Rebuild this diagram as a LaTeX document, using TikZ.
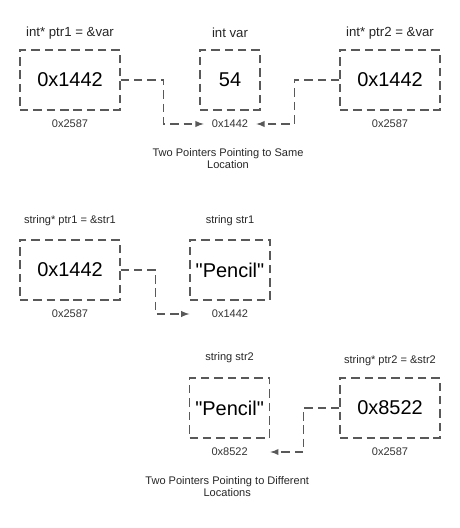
\documentclass[tikz,border=0pt]{standalone}
\usepackage{fontspec}
\setmainfont{Liberation Sans}
\usetikzlibrary{calc,arrows}
\usepackage{xcolor}
\definecolor{dashgray}{HTML}{595959}

\tikzset{
    membox/.style={draw=dashgray, line width=1pt, dash pattern=on 6pt off 3.5pt, minimum height=1.5cm, inner sep=0pt, font=\fontsize{14.2}{17}\selectfont},
    bigname/.style={font=\fontsize{9.4}{11}\selectfont, text=black!85},
    smallname/.style={font=\fontsize{7.85}{9}\selectfont, text=black!85},
    addr/.style={font=\fontsize{7.85}{9}\selectfont, text=black!80, inner sep=0.2cm},
    caption/.style={font=\fontsize{7.85}{8.6}\selectfont, align=center, text=black!85},
    ptrline/.style={draw=dashgray, line width=1pt, dash pattern=on 6pt off 3.5pt, -latex}
}

\begin{document}
\begin{tikzpicture}
        \useasboundingbox (0,0) rectangle (11.5,-13.2);

        % two pointers, same location
        \foreach \name/\x/\w/\val/\lbl/\adr in {ptrA/1.75/2.5/0x1442/{int* ptr1 = \&var}/0x2587,
                                               var/5.75/1.5/54/{int var}/0x1442,
                                               ptrB/9.75/2.5/0x1442/{int* ptr2 = \&var}/0x2587} {
                \node[membox, minimum width=\w cm] (\name) at (\x,-2) {\val};
                \node[bigname] (\name lbl) at (\x,-0.825) {\lbl};
                \node[addr] (\name adr) at (\x,-3.1) {\adr};
            }
        \draw[ptrline] (ptrA.east) -- ++(1.075,0) |- (varadr.west);
        \draw[ptrline] (ptrB.west) -- ++(-1.125,0) |- (varadr.east);
        \node[caption] (capA) at (5.7,-3.975) {Two Pointers Pointing to Same\\Location};

        % two pointers, different locations
        \node[membox, minimum width=2.5cm] (ptrC) at (1.75,-6.75) {0x1442};
        \node[smallname] (ptrClbl) at (1.75,-5.525) {string* ptr1 = \&str1};
        \node[addr] (ptrCadr) at (1.75,-7.85) {0x2587};
        \node[membox, minimum width=2cm] (strA) at (5.75,-6.75) {\textquotedbl Pencil\textquotedbl};
        \node[smallname] (strAlbl) at (5.75,-5.525) {string str1};
        \node[addr] (strAadr) at (5.75,-7.85) {0x1442};
        \draw[ptrline] (ptrC.east) -- ++(0.875,0) |- (strA.west |- strAadr);

        \node[membox, minimum width=2cm] (strB) at (5.74,-10.2) {\textquotedbl Pencil\textquotedbl};
        \node[smallname] (strBlbl) at (5.74,-8.95) {string str2};
        \node[addr] (strBadr) at (5.74,-11.3) {0x8522};
        \node[membox, minimum width=2.5cm] (ptrD) at (9.75,-10.2) {0x8522};
        \node[smallname] (ptrDlbl) at (9.75,-9.025) {string* ptr2 = \&str2};
        \node[addr] (ptrDadr) at (9.75,-11.3) {0x2587};
        \draw[ptrline] (ptrD.west) -- ++(-0.9,0) |- (strB.east |- strBadr);

        \node[caption] (capB) at (5.68,-12.17) {Two Pointers Pointing to Different\\Locations};

    \end{tikzpicture}
\end{document}
